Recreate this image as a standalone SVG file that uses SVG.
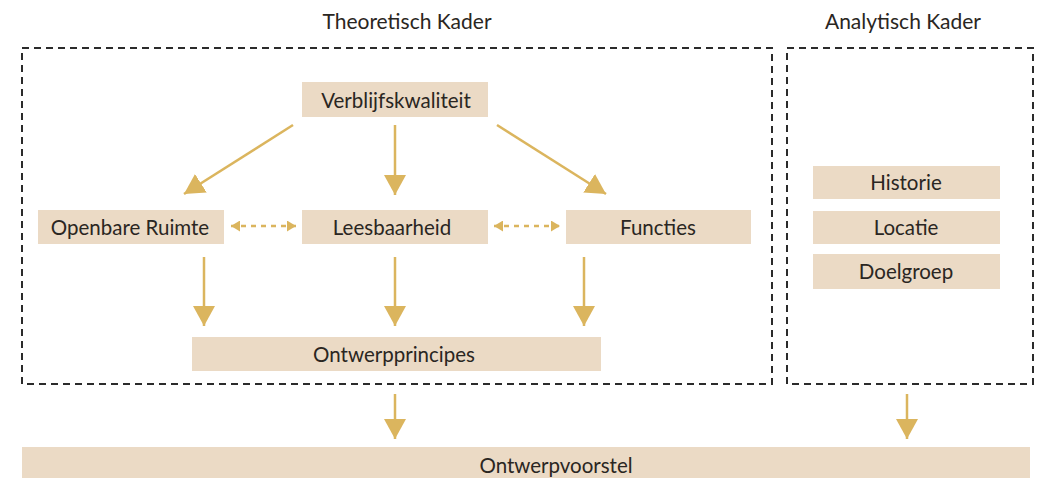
<svg xmlns="http://www.w3.org/2000/svg" width="1044" height="478" viewBox="0 0 1044 478">
<style>
.frame{fill:none;stroke:#2b2b2b;stroke-width:2;stroke-dasharray:7 5}
.box{fill:#ebdac5}
.t{font-family:Lato,"Liberation Sans",sans-serif;font-size:20.5px;fill:#2a2622;text-anchor:middle;dominant-baseline:central}
.title{font-family:Lato,"Liberation Sans",sans-serif;font-size:21px;fill:#2a2622;text-anchor:middle}
.ar{stroke:#dbb55e;stroke-width:2.5;fill:none}
.da{stroke:#dbb55e;stroke-width:2.5;fill:none;stroke-dasharray:5 5}
</style>
<defs>
<marker id="big" markerUnits="userSpaceOnUse" viewBox="0 0 20 22" refX="20" refY="11" markerWidth="20" markerHeight="22" orient="auto">
<path d="M0,0 L20,11 L0,22 z" fill="#dbb55e"/>
</marker>
<marker id="small" markerUnits="userSpaceOnUse" viewBox="0 0 9 11" refX="9" refY="5.5" markerWidth="9" markerHeight="11" orient="auto-start-reverse">
<path d="M0,0 L9,5.5 L0,11 z" fill="#dbb55e"/>
</marker>
</defs>
<g id="theoretisch-kader">
<rect class="frame" x="22" y="48" width="750" height="336"/>
<text class="title" x="407" y="29">Theoretisch Kader</text>
</g>
<g id="analytisch-kader">
<rect class="frame" x="787" y="48" width="246" height="336"/>
<text class="title" x="903" y="29">Analytisch Kader</text>
</g>
<g id="verblijfskwaliteit"><rect class="box" x="302" y="82" width="186" height="35"/><text class="t" x="396" y="100">Verblijfskwaliteit</text></g>
<g id="openbare-ruimte"><rect class="box" x="38" y="210" width="186" height="34"/><text class="t" x="130" y="227">Openbare Ruimte</text></g>
<g id="leesbaarheid"><rect class="box" x="302" y="210" width="186" height="34"/><text class="t" x="392" y="227">Leesbaarheid</text></g>
<g id="functies"><rect class="box" x="566" y="210" width="185" height="34"/><text class="t" x="658" y="227">Functies</text></g>
<g id="ontwerpprincipes"><rect class="box" x="192" y="337" width="409" height="34"/><text class="t" x="394" y="354">Ontwerpprincipes</text></g>
<g id="historie"><rect class="box" x="813" y="166" width="187" height="33"/><text class="t" x="906" y="182">Historie</text></g>
<g id="locatie"><rect class="box" x="813" y="211" width="187" height="33"/><text class="t" x="906" y="227">Locatie</text></g>
<g id="doelgroep"><rect class="box" x="813" y="254" width="187" height="35"/><text class="t" x="906" y="271">Doelgroep</text></g>
<g id="ontwerpvoorstel"><rect class="box" x="22" y="447" width="1008" height="35"/><text class="t" x="556" y="465">Ontwerpvoorstel</text></g>
<g id="connectors">
<line class="ar" x1="293" y1="125" x2="184" y2="194" marker-end="url(#big)"/>
<line class="ar" x1="395" y1="125" x2="395" y2="195" marker-end="url(#big)"/>
<line class="ar" x1="497" y1="125" x2="606" y2="194" marker-end="url(#big)"/>
<line class="ar" x1="204" y1="257" x2="204" y2="326" marker-end="url(#big)"/>
<line class="ar" x1="395" y1="257" x2="395" y2="326" marker-end="url(#big)"/>
<line class="ar" x1="584" y1="257" x2="584" y2="326" marker-end="url(#big)"/>
<line class="ar" x1="395" y1="394" x2="395" y2="439" marker-end="url(#big)"/>
<line class="ar" x1="907" y1="394" x2="907" y2="439" marker-end="url(#big)"/>
<line class="da" x1="231" y1="226" x2="296" y2="226" marker-start="url(#small)" marker-end="url(#small)"/>
<line class="da" x1="494" y1="226" x2="560" y2="226" marker-start="url(#small)" marker-end="url(#small)"/>
</g>
</svg>
